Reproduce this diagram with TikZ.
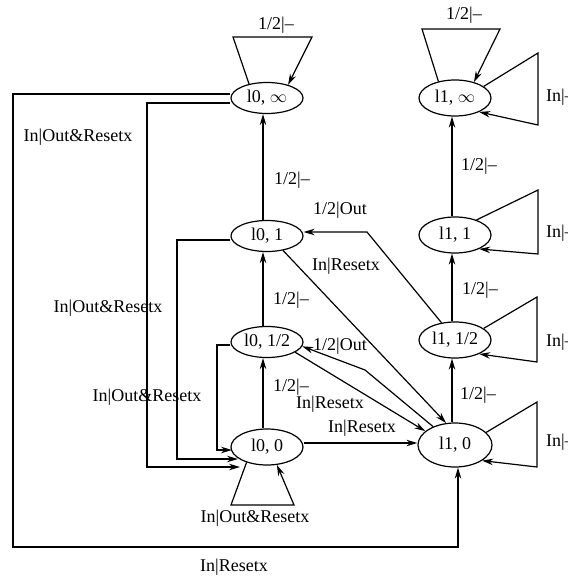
\documentclass[tikz,border=0pt]{standalone}
\usepackage{fontspec}
\setmainfont{Liberation Serif}
\usetikzlibrary{shapes.geometric,arrows.meta}
\begin{document}
\begin{tikzpicture}[x=1pt,y=-1pt,
  st/.style={draw, ellipse, inner sep=0pt, line width=1.2pt, font=\fontsize{18}{20}\selectfont},
  lzero/.style={st, minimum width=72pt, minimum height=31pt},
  lone/.style={st, minimum width=72pt, minimum height=36pt},
  arr/.style={line width=1.2pt, -{Stealth[length=11pt,width=6.5pt]}},
  lab/.style={font=\fontsize{18}{20}\selectfont, inner sep=0pt}]
\useasboundingbox (0,0) rectangle (567,580);

% states
\node[lzero] (l0inf) at (267,98) {l0, $\infty$};
\node[lone] (l1inf) at (455,98) {l1, $\infty$};
\node[lzero] (l01) at (267,236) {l0, 1};
\node[lone] (l11) at (455,235) {l1, 1};
\node[lzero] (l0h) at (267,342) {l0, 1/2};
\node[lone] (l1h) at (455,340) {l1, 1/2};
\node[lzero, minimum height=36pt] (l00) at (267,447) {l0, 0};
\node[lone, minimum width=74pt, minimum height=44pt] (l10) at (455,445) {l1, 0};

% vertical chains
\draw[arr] ([xshift=-4pt]l00.north) -- ([xshift=-4pt]l0h.south);
\draw[arr] ([xshift=-4pt]l0h.north) -- ([xshift=-4pt]l01.south);
\draw[arr] ([xshift=-4pt]l01.north) -- ([xshift=-4pt]l0inf.south);
\draw[arr] ([xshift=-3pt]l10.north) -- ([xshift=-3pt]l1h.south);
\draw[arr] ([xshift=-3pt]l1h.north) -- ([xshift=-3pt]l11.south);
\draw[arr] ([xshift=-3pt]l11.north) -- ([xshift=-3pt]l1inf.south);

% self loops
\draw[arr] (l0inf.142) -- (233,37) -- (312,37) -- (l0inf.32);
\draw[arr] (l1inf.135) -- (422,29) -- (500,29) -- (l1inf.40);
\draw[arr] (l1inf.22) -- (538,53) -- (538,125) -- (l1inf.-30);
\draw[arr] (l11.35) -- (538,190) -- (538,254) -- (l11.-30);
\draw[arr] (l1h.22) -- (537,297) -- (537,362) -- (l1h.-30);
\draw[arr] (l10.22) -- (537,402) -- (537,467) -- (l10.-30);
\draw[arr] (l00.217) -- (231,505) -- (294,505) -- (l00.299);

% left connectors
\draw[arr] ([yshift=4pt]l0inf.west) -| (13,547) -| ([xshift=3pt]l10.south);
\draw[arr] ([yshift=-5pt]l0inf.west) -| (147,467) -- ([xshift=-27pt,yshift=-20pt]l00.center);
\draw[arr] ([yshift=-4pt]l01.west) -| (177,459) -- ([xshift=-29pt,yshift=-12pt]l00.center);
\draw[arr] ([yshift=-3pt]l0h.west) -| (217,450) -- ([xshift=-35pt,yshift=-3pt]l00.center);

% diagonals
\draw[arr] (l01.318) -- (l10.112);
\draw[arr] (l0h.340) -- (l10.155);
\draw[arr] (l10.140) -- (365,370) -- (l0h.353);
\draw[arr] (l1h.128) -- (367,232) -- ([yshift=4pt]l01.east);
\draw[arr] ([yshift=4pt]l00.east) -- ([yshift=2pt]l10.west);

% labels
\node[lab] at (276,25) {1/2|--};
\node[lab] at (464,15) {1/2|--};
\node[lab,anchor=west] at (274,180) {1/2|--};
\node[lab,anchor=west] at (273,300) {1/2|--};
\node[lab,anchor=west] at (273,387) {1/2|--};
\node[lab,anchor=west] at (461,166) {1/2|--};
\node[lab,anchor=west] at (462,290) {1/2|--};
\node[lab,anchor=west] at (460,395) {1/2|--};
\node[lab] at (340,210) {1/2|Out};
\node[lab] at (340,346) {1/2|Out};
\node[lab] at (346,266) {In|Resetx};
\node[lab] at (330,404) {In|Resetx};
\node[lab] at (362,428) {In|Resetx};
\node[lab] at (234,567) {In|Resetx};
\node[lab] at (78,137) {In|Out\&Resetx};
\node[lab] at (108,308) {In|Out\&Resetx};
\node[lab] at (147,397) {In|Out\&Resetx};
\node[lab] at (255,518) {In|Out\&Resetx};
\node[lab,anchor=west] at (546,97) {In|--};
\node[lab,anchor=west] at (546,233) {In|--};
\node[lab,anchor=west] at (546,342) {In|--};
\node[lab,anchor=west] at (546,442) {In|--};
\end{tikzpicture}
\end{document}
